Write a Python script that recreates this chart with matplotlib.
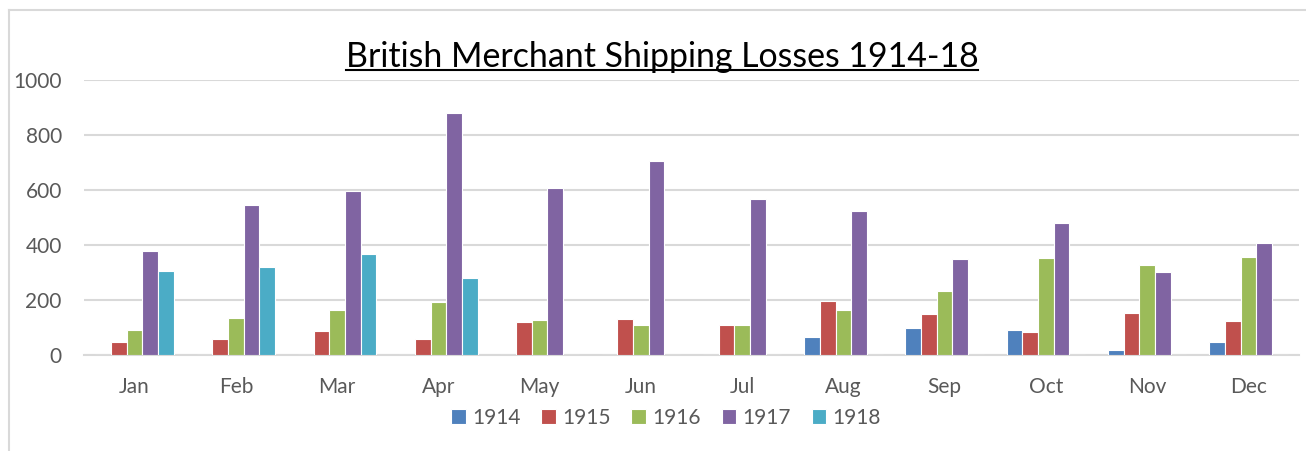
import numpy as np
import matplotlib
matplotlib.use("Agg")
import matplotlib.pyplot as plt
from matplotlib.lines import Line2D

months = ["Jan", "Feb", "Mar", "Apr", "May", "Jun",
          "Jul", "Aug", "Sep", "Oct", "Nov", "Dec"]
years = ["1914", "1915", "1916", "1917", "1918"]

# losses per month, 0 where no bar is drawn
losses_1914 = [0, 0, 0, 0, 0, 0, 0, 65, 97, 91, 18, 47]
losses_1915 = [47, 59, 87, 58, 120, 130, 110, 196, 150, 82, 152, 124]
losses_1916 = [91, 133, 164, 193, 126, 108, 110, 165, 232, 352, 328, 356]
losses_1917 = [379, 544, 595, 881, 607, 705, 567, 522, 349, 479, 302, 408]
losses_1918 = [305, 320, 366, 279, 0, 0, 0, 0, 0, 0, 0, 0]

series = [losses_1914, losses_1915, losses_1916, losses_1917, losses_1918]
colors = ["#4F81BD", "#C0504D", "#9BBB59", "#8064A2", "#4BACC6"]

plt.rcParams["font.family"] = ["Lato", "DejaVu Sans"]
W, H = 1306, 451
fig = plt.figure(figsize=(W / 100, H / 100), dpi=100)
ax = fig.add_axes([84 / W, (H - 355) / H, (1299 - 84) / W, 275 / H])

x = np.arange(len(months))
step = 0.155
for i, (vals, col, yr) in enumerate(zip(series, colors, years)):
    ax.bar(x + (i - 2) * step, vals, width=step, color=col,
           edgecolor="white", linewidth=0.8, label=yr, zorder=3)

ax.set_xlim(-0.5, len(months) - 0.5)
ax.set_ylim(0, 1000)
ax.set_yticks(range(0, 1001, 200))
ax.set_xticks(x)
ax.set_xticklabels(months)
ax.grid(axis="y", color="#D9D9D9", linewidth=1.5, zorder=0)
for s in ["top", "right", "left"]:
    ax.spines[s].set_visible(False)
ax.spines["bottom"].set_color("#D9D9D9")
ax.spines["bottom"].set_linewidth(1.5)
ax.tick_params(length=0, labelsize=15, colors="#595959")
ax.tick_params(axis="y", pad=16)
ax.tick_params(axis="x", pad=16)

fig.legend(loc="center", bbox_to_anchor=(666 / W, (H - 418) / H), ncol=5,
           frameon=False, fontsize=15, labelcolor="#595959",
           handlelength=0.7, handleheight=0.7, handletextpad=0.3,
           columnspacing=1.0)

title = fig.text(662 / W, (H - 67) / H, "British Merchant Shipping Losses 1914-18",
                 ha="center", va="baseline", fontsize=24.4, color="black")
fig.canvas.draw()
bb = title.get_window_extent()
fig.add_artist(Line2D([bb.x0 / W, bb.x1 / W], [(H - 70) / H] * 2,
                      transform=fig.transFigure, color="black", linewidth=1.5))

# chart area border (top and left visible)
fig.add_artist(Line2D([9 / W, 1], [(H - 10) / H] * 2, transform=fig.transFigure,
                      color="#D9D9D9", linewidth=1.5))
fig.add_artist(Line2D([9 / W] * 2, [0, (H - 10) / H], transform=fig.transFigure,
                      color="#D9D9D9", linewidth=1.5))

fig.savefig("out.png", dpi=100)
